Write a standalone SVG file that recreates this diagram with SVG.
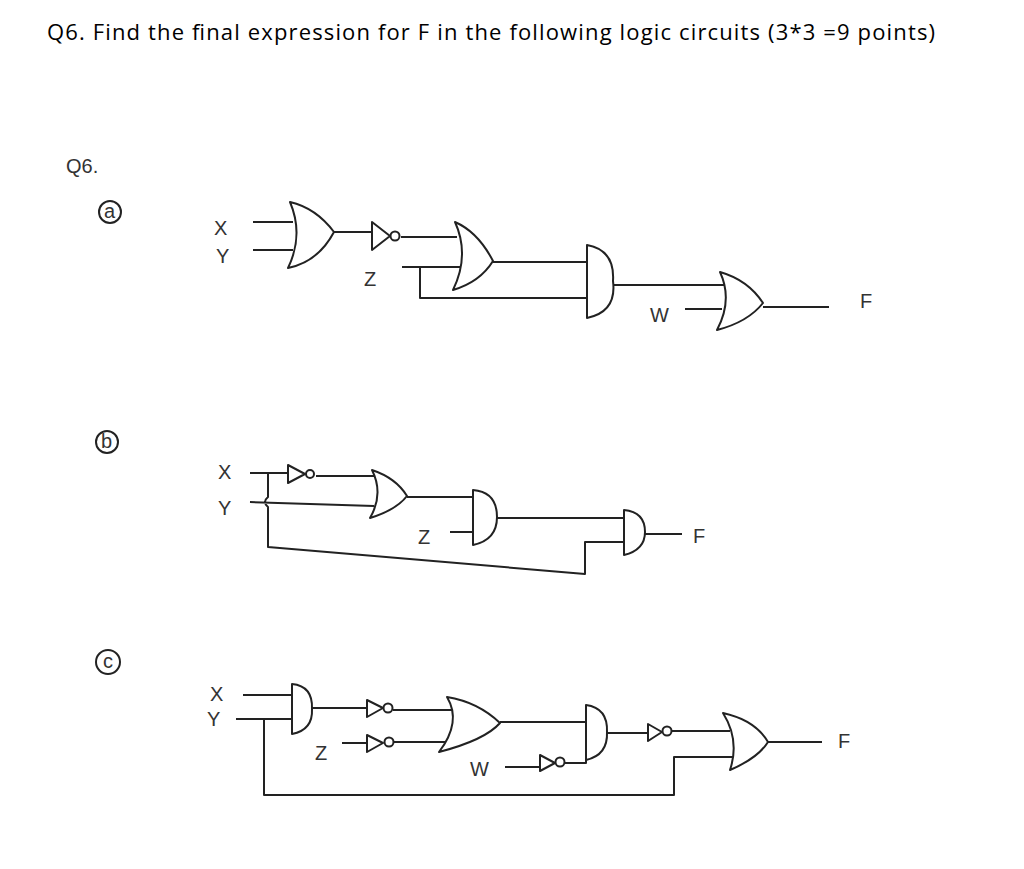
<svg xmlns="http://www.w3.org/2000/svg" width="1024" height="869" viewBox="0 0 1024 869">
<style>
.w{fill:none;stroke:#222;stroke-width:2;stroke-linejoin:round}
.g{fill:#fff;stroke:#222;stroke-width:2;stroke-linejoin:round}
.h{font-family:"Liberation Sans",Arial,sans-serif;font-size:20px;fill:#333}
.t{font-family:"Open Sans","Liberation Sans",sans-serif;font-size:22px;fill:#000}
</style>
<rect width="1024" height="869" fill="#fff"/>
<text class="t" x="47" y="40" textLength="888">Q6. Find the final expression for F in the following logic circuits (3*3 =9 points)</text>
<g id="labels">
<text class="h" x="66" y="173" font-size="28">Q6.</text>
<circle cx="110" cy="212" r="11" class="w" stroke-width="1.5"/><text class="h" x="104" y="218" font-size="14">a</text>
<circle cx="107" cy="442" r="11" class="w" stroke-width="1.5"/><text class="h" x="101" y="448" font-size="14">b</text>
<circle cx="108" cy="662" r="12" class="w" stroke-width="1.5"/><text class="h" x="103" y="668" font-size="14">c</text>
</g>
<g id="connectors">
<!-- a -->
<path class="w" d="M253 222H293M253 250H293M334 232H372M401 237H457M402 267H462M420 267V298H586M493 262H586M613 285H724M685 309H722M763 307H829"/>
<!-- b -->
<path class="w" d="M250 473H288M268 473V497Q262 502 268 507V547L585 574V542H624M316 476H374M250 502L374 506M407 497H473M450 532H473M497 518H624M645 534H682"/>
<!-- c -->
<path class="w" d="M243 695H292M236 719H292M264 719V795H674V757H734M312 708H367M393 710H452M342 743H367M394 742H448M500 722H586M505 767H540M565 763H586V752M607 733H648M672 731H730M768 742H822"/>
</g>
<g id="gates">
<path id="a_or1" class="g" d="M290 202Q304 235 288 268Q318 262 334 232Q316 208 290 202Z"/>
<g id="a_not"><path class="g" d="M372 222L390 236L372 250Z"/><circle class="g" cx="395" cy="236" r="4.5"/></g>
<path id="a_or2" class="g" d="M455 222Q470 255 453 290Q480 282 493 261Q478 232 455 222Z"/>
<path id="a_and" class="g" d="M587 245V318Q617 312 613 281Q615 250 587 245Z"/>
<path id="a_or3" class="g" d="M720 272Q733 300 717 330Q748 322 763 303Q748 280 720 272Z"/>
<g id="b_not"><path class="g" d="M288 465L305 474L288 483Z"/><circle class="g" cx="310" cy="474" r="4"/></g>
<path id="b_or" class="g" d="M372 470Q384 494 370 518Q396 510 407 496Q396 478 372 470Z"/>
<path id="b_and1" class="g" d="M473 490V545Q497 540 497 517Q497 492 473 490Z"/>
<path id="b_and2" class="g" d="M624 510V555Q645 550 645 532Q645 512 624 510Z"/>
<path id="c_and1" class="g" d="M292 684V734Q313 730 312 709Q313 686 292 684Z"/>
<g id="c_not1"><path class="g" d="M367 700L383 708L367 717Z"/><circle class="g" cx="388" cy="708" r="4.5"/></g>
<g id="c_not2"><path class="g" d="M367 735L383 743L367 752Z"/><circle class="g" cx="389" cy="742" r="4.5"/></g>
<path id="c_or1" class="g" d="M447 697Q462 722 439 752Q485 740 500 723Q478 702 447 697Z"/>
<g id="c_not3"><path class="g" d="M540 755L555 763L540 771Z"/><circle class="g" cx="560" cy="762" r="4.5"/></g>
<path id="c_and2" class="g" d="M586 705V760Q608 755 607 732Q608 708 586 705Z"/>
<g id="c_not4"><path class="g" d="M648 724L662 732L648 741Z"/><circle class="g" cx="667" cy="731" r="4.5"/></g>
<path id="c_or2" class="g" d="M723 713Q740 740 730 770Q758 758 768 742Q755 720 723 713Z"/>
</g>
<g id="texts" class="h">
<text x="214" y="235">X</text><text x="216" y="263">Y</text><text x="364" y="286">Z</text>
<text x="650" y="322">W</text><text x="860" y="308">F</text>
<text x="218" y="479">X</text><text x="218" y="515">Y</text><text x="418" y="544">Z</text><text x="693" y="543">F</text>
<text x="210" y="701">X</text><text x="207" y="726">Y</text><text x="315" y="760">Z</text><text x="470" y="776">W</text><text x="838" y="748">F</text>
</g>
</svg>
